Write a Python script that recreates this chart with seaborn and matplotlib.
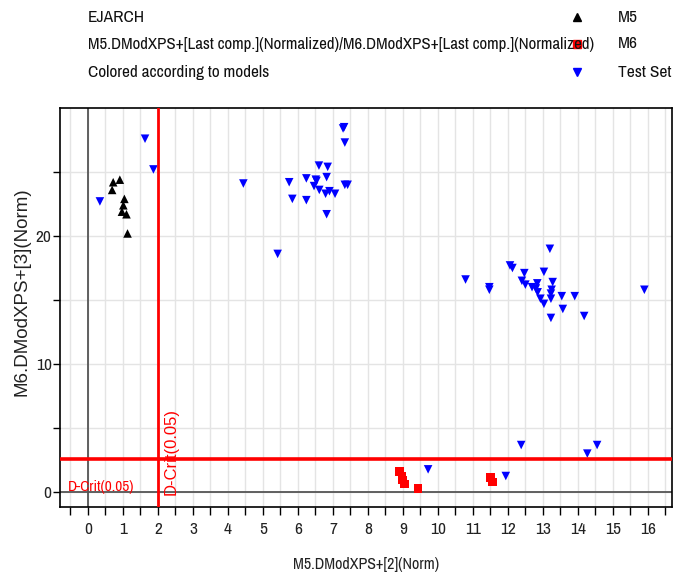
import matplotlib
matplotlib.use("Agg")
import matplotlib.pyplot as plt
import matplotlib.font_manager as fm
import seaborn as sns
import pandas as pd
import numpy as np

# ---- data ----
m5_x = [0.91, 0.72, 0.69, 1.04, 1.01, 0.97, 1.10, 1.13]
m5_y = [24.4, 24.2, 23.6, 22.9, 22.4, 21.9, 21.7, 20.2]

m6_x = [8.91, 8.98, 8.99, 9.05, 9.43, 11.51, 11.56]
m6_y = [1.59, 1.25, 0.94, 0.63, 0.29, 1.15, 0.80]

test_x = [1.63, 1.87, 0.34,
          4.44, 5.42, 5.75, 5.84, 6.24, 6.24, 6.60, 6.51, 6.53, 6.46, 6.61,
          6.85, 6.82, 6.79, 6.90, 7.06, 6.82, 7.29, 7.32, 7.34, 7.34, 7.42,
          10.79, 11.47, 11.47, 12.06, 12.13, 12.47, 12.40, 12.50, 13.20, 13.03,
          12.69, 12.84, 12.80, 12.85, 12.93, 13.03, 13.28, 13.25, 13.23, 13.23,
          13.54, 13.57, 13.23, 13.91, 14.18, 15.90,
          9.72, 12.38, 11.94, 14.27, 14.55]
test_y = [27.6, 25.2, 22.7,
          24.1, 18.6, 24.2, 22.9, 24.5, 22.8, 25.5, 24.4, 24.3, 23.9, 23.6,
          25.4, 24.6, 23.3, 23.5, 23.3, 21.7, 28.4, 28.5, 27.3, 24.0, 24.0,
          16.6, 16.0, 15.8, 17.7, 17.5, 17.1, 16.5, 16.2, 19.0, 17.2,
          16.0, 16.3, 15.9, 15.6, 15.1, 14.7, 16.4, 15.8, 15.5, 15.1,
          15.3, 14.3, 13.6, 15.3, 13.75, 15.8,
          1.77, 3.67, 1.25, 3.0, 3.67]

groups = ["M5", "M6", "Test Set"]
colors = {"M5": "black", "M6": "#ff0000", "Test Set": "#0000ff"}
markers = {"M5": "^", "M6": "s", "Test Set": "v"}

dcrit_x = 2.0
dcrit_y = 2.55

header_lines = ["EJARCH",
                "M5.DModXPS+[Last comp.](Normalized)/M6.DModXPS+[Last comp.](Normalized)",
                "Colored according to models"]
x_label = "M5.DModXPS+[2](Norm)"
y_label = "M6.DModXPS+[3](Norm)"
crit_label = "D-Crit(0.05)"

df = pd.DataFrame({
    "x": m5_x + m6_x + test_x,
    "y": m5_y + m6_y + test_y,
    "group": ["M5"] * len(m5_x) + ["M6"] * len(m6_x) + ["Test Set"] * len(test_x),
})

# ---- fonts ----
names = sorted({f.name for f in fm.fontManager.ttflist})
cond = [n for n in names if ("Narrow" in n or "Condensed" in n)]
regular = "Liberation Sans"
narrow = cond[0] if cond else regular

sns.set_theme(style="white")
plt.rcParams["font.family"] = [regular, "DejaVu Sans"]

fig = plt.figure(figsize=(6.73, 5.77), dpi=100)
ax = fig.add_axes([60 / 673, 1 - 507 / 577, 612 / 673, 399 / 577])

ax.set_xlim(-0.8, 16.69)
ax.set_ylim(-1.17, 30.0)

# grid
ax.set_xticks(np.arange(-0.5, 16.6, 0.5), minor=True)
ax.set_xticks(np.arange(0, 17, 1))
ax.set_yticks(np.arange(5, 30, 10), minor=True)
ax.set_yticks([0, 10, 20])
ax.grid(True, which="both", color="#e4e4e4", linewidth=1.0, zorder=0)
ax.set_axisbelow(True)

ax.axvline(0, color="#555555", linewidth=1.3, zorder=1)
ax.axhline(0, color="#555555", linewidth=1.3, zorder=1)

sns.scatterplot(data=df, x="x", y="y", hue="group", style="group",
                palette=colors, markers=markers, hue_order=groups,
                style_order=groups, s=38, linewidth=0, legend=False,
                ax=ax, zorder=3)

ax.axvline(dcrit_x, color="#ff0000", linewidth=2.0, zorder=4)
ax.axhline(dcrit_y, color="#ff0000", linewidth=2.6, zorder=4)

renderer = fig.canvas.get_renderer()


def fit(t, target_px, max_size):
    t.set_fontsize(max_size)
    w = t.get_window_extent(renderer).width
    if w > target_px:
        t.set_fontsize(max_size * target_px / w)
    return t


ax.text(-0.58, 0.4, crit_label, color="#ff0000", fontsize=11,
        family=[narrow, "DejaVu Sans"], va="center", ha="left", zorder=5)
ax.text(2.15, -0.2, crit_label, color="#ff0000", fontsize=12,
        family=[regular, "DejaVu Sans"], rotation=90, va="bottom", ha="left", zorder=5)

for sp in ax.spines.values():
    sp.set_visible(True)
    sp.set_color("black")
    sp.set_linewidth(1.2)

ax.tick_params(axis="x", which="both", direction="out", length=6, width=1,
               color="black", bottom=True, pad=5)
ax.tick_params(axis="y", which="both", direction="out", length=5, width=1,
               color="black", left=True, pad=1)
for lab in ax.get_xticklabels() + ax.get_yticklabels():
    lab.set_fontfamily([narrow, "DejaVu Sans"])
    lab.set_fontsize(12.5)
    lab.set_color("#222222")

ax.set_xlabel(x_label, family=[narrow, "DejaVu Sans"], fontsize=11.5,
              labelpad=14, color="#222222")
ax.set_ylabel(y_label, fontsize=13.5, family=[regular, "DejaVu Sans"],
              color="#222222")
ax.yaxis.set_label_coords(-0.049, 0.54)

# header legend
rows_y = [1 - 17 / 577, 1 - 44 / 577, 1 - 72 / 577]
widths = [64, 510, 182]
for txt, yy, w in zip(header_lines, rows_y, widths):
    t = fig.text(88 / 673, yy, txt, family=[narrow, "DejaVu Sans"],
                 va="center", ha="left", color="#111111")
    fit(t, w, 12.5)
label_widths = [24, 24, 54]
for g, yy, w in zip(groups, rows_y, label_widths):
    fig.lines.append(plt.Line2D([577 / 673], [yy], marker=markers[g], color=colors[g],
                                markersize=6 if g != "M6" else 5.5, linestyle="none",
                                transform=fig.transFigure, figure=fig))
    t = fig.text(618 / 673, yy, g, family=[narrow, "DejaVu Sans"],
                 va="center", ha="left", color="#111111")
    fit(t, w, 12.5)

fig.savefig("out.png", dpi=100)
